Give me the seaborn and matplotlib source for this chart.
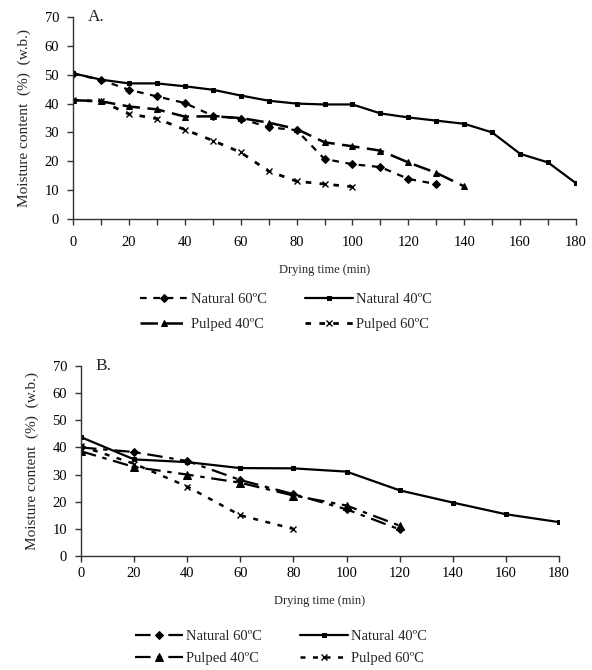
import matplotlib
matplotlib.use("Agg")
import matplotlib.pyplot as plt
import seaborn as sns

# panel A data (10 min steps)
a_nat60_t = [0, 10, 20, 30, 40, 50, 60, 70, 80, 90, 100, 110, 120, 130]
a_nat60 = [50.4, 48.2, 44.8, 42.5, 40.2, 35.8, 34.8, 31.8, 30.8, 20.8, 19.0, 18.0, 13.9, 12.1]
a_nat40_t = [0, 10, 20, 30, 40, 50, 60, 70, 80, 90, 100, 110, 120, 130, 140, 150, 160, 170, 180]
a_nat40 = [50.5, 48.3, 47.0, 47.0, 46.0, 44.8, 42.8, 41.0, 40.0, 39.7, 39.7, 36.6, 35.2, 34.1, 33.0, 30.0, 22.6, 19.6, 12.4]
a_pul40_t = [0, 10, 20, 30, 40, 50, 60, 70, 80, 90, 100, 110, 120, 130, 140]
a_pul40 = [41.2, 40.8, 39.0, 38.0, 35.5, 35.6, 35.0, 33.4, 31.2, 26.6, 25.2, 23.7, 19.6, 16.0, 11.3]
a_pul60_t = [0, 10, 20, 30, 40, 50, 60, 70, 80, 90, 100]
a_pul60 = [41.2, 40.8, 36.4, 34.8, 31.0, 27.2, 23.1, 16.6, 13.1, 12.1, 11.2]

# panel B data (20 min steps)
b_nat60_t = [0, 20, 40, 60, 80, 100, 120]
b_nat60 = [40.0, 38.3, 35.0, 28.0, 22.8, 17.2, 9.8]
b_nat40_t = [0, 20, 40, 60, 80, 100, 120, 140, 160, 180]
b_nat40 = [43.8, 35.6, 34.6, 32.4, 32.3, 31.1, 24.2, 19.7, 15.4, 12.5]
b_pul40_t = [0, 20, 40, 60, 80, 100, 120]
b_pul40 = [38.6, 32.8, 30.0, 27.0, 22.3, 18.6, 11.2]
b_pul60_t = [0, 20, 40, 60, 80]
b_pul60 = [40.5, 34.0, 25.6, 15.0, 10.0]

labels = ["Natural 60ºC", "Natural 40ºC", "Pulped 40ºC", "Pulped 60ºC"]

sns.set_style("ticks")
plt.rcParams["font.family"] = ["Liberation Serif", "DejaVu Serif"]
plt.rcParams["font.size"] = 10

fig = plt.figure(figsize=(5.92, 6.7), dpi=100)
axA = fig.add_axes([0.1233, 0.6731, 0.8497, 0.3015])
axB = fig.add_axes([0.1368, 0.1701, 0.8074, 0.2836])


def draw(ax, series, styles):
    for (t, v), lab, st in zip(series, labels, styles):
        sns.lineplot(x=t, y=v, ax=ax, color="black", label=lab,
                     markeredgecolor="black", **st)


stylesA = [
    dict(linestyle=(0, (3, 3)), linewidth=1.6, marker="D", markersize=4.5),
    dict(linestyle="-", linewidth=1.6, marker="s", markersize=3),
    dict(linestyle=(0, (7, 3)), linewidth=1.8, marker="^", markersize=5),
    dict(linestyle=(0, (2, 3)), linewidth=2.0, marker="x", markersize=5, markeredgewidth=1),
]
stylesB = [
    dict(linestyle=(0, (7, 3, 2, 3)), linewidth=1.6, marker="D", markersize=4.5),
    dict(linestyle="-", linewidth=1.6, marker="s", markersize=3),
    dict(linestyle=(0, (7, 3, 2, 3)), linewidth=1.6, marker="^", markersize=6),
    dict(linestyle=(0, (2, 3)), linewidth=1.8, marker="x", markersize=5, markeredgewidth=1),
]

draw(axA, [(a_nat60_t, a_nat60), (a_nat40_t, a_nat40), (a_pul40_t, a_pul40), (a_pul60_t, a_pul60)], stylesA)
draw(axB, [(b_nat60_t, b_nat60), (b_nat40_t, b_nat40), (b_pul40_t, b_pul40), (b_pul60_t, b_pul60)], stylesB)

for ax, name, xticks, xpad in [(axA, "A.", range(0, 181, 10), 8), (axB, "B.", range(0, 181, 20), 4)]:
    ax.set_xlim(0, 180)
    ax.set_ylim(0, 70)
    ax.set_yticks(range(0, 71, 10))
    ax.set_xticks(list(xticks))
    ax.set_xticklabels([str(t) if t % 20 == 0 else "" for t in xticks])
    for s in ["top", "right"]:
        ax.spines[s].set_visible(False)
    for s in ["left", "bottom"]:
        ax.spines[s].set_color("#333333")
        ax.spines[s].set_linewidth(1.0)
    ax.tick_params(direction="out", length=4, width=1, colors="#333333",
                   labelcolor="black", labelsize=10.5)
    ax.tick_params(axis="x", pad=xpad)
    ax.tick_params(axis="y", pad=6)
    ax.set_xlabel("Drying time (min)", fontsize=9, labelpad=11)
    ax.set_ylabel("Moisture content  (%)  (w.b.)", fontsize=11, labelpad=10)
    ax.text(0.03, 1.0, name, transform=ax.transAxes, fontsize=12.5, va="center", ha="left")

# legend reads row by row: Natural 60, Natural 40 / Pulped 40, Pulped 60
for ax, anchor, spacing in [(axA, (0.423, -0.30), 0.8), (axB, (0.418, -0.32), 0.6)]:
    h, l = ax.get_legend_handles_labels()
    order = [0, 2, 1, 3]
    ax.legend([h[i] for i in order], [l[i] for i in order], ncol=2, loc="upper center",
              bbox_to_anchor=anchor, frameon=False, handlelength=3.3, columnspacing=2.6,
              handletextpad=0.2, labelspacing=spacing, fontsize=10.5)

fig.savefig("out.png", dpi=100)
